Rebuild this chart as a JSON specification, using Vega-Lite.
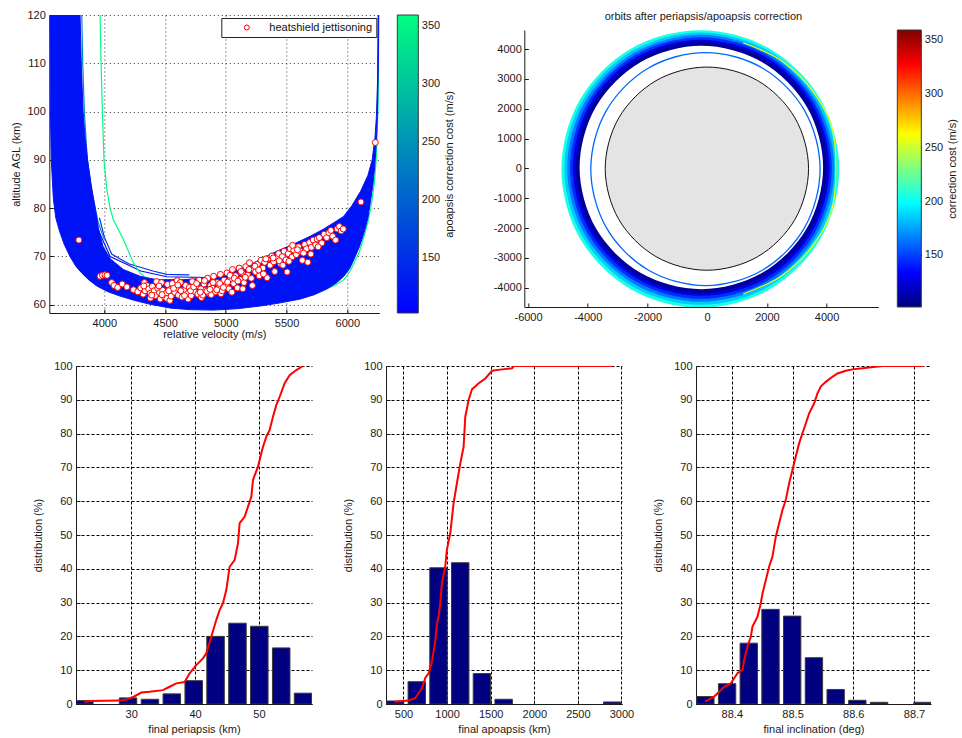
{
"$schema": "https://vega.github.io/schema/vega-lite/v6.json",
"background": "white",
"padding": {"left": 10, "top": 9, "right": 2, "bottom": 2},
"config": {
  "font": "Liberation Sans",
  "view": {"stroke": null},
  "axis": {"labelFont": "Liberation Sans", "titleFont": "Liberation Sans", "labelFontSize": 11, "titleFontSize": 11, "titleFontWeight": "normal", "labelColor": "#1a1a1a", "titleColor": "#1a1a1a", "domainColor": "#1a1a1a", "tickColor": "#1a1a1a", "tickSize": -4, "labelPadding": 8, "grid": false, "labelOverlap": false, "labelFlush": false},
  "legend": {"labelFont": "Liberation Sans", "labelFontSize": 11},
  "title": {"font": "Liberation Sans", "fontSize": 11, "fontWeight": "normal", "color": "#1a1a1a"}
},
"spacing": 21,
"center": true,
"resolve": {"scale": {"color": "independent", "shape": "independent", "stroke": "independent"}, "legend": {"color": "independent", "shape": "independent", "stroke": "independent"}},
"vconcat": [
 {"resolve": {"scale": {"color": "independent", "shape": "independent", "stroke": "independent"}, "legend": {"color": "independent", "shape": "independent", "stroke": "independent"}},
  "hconcat": [
   {"resolve": {"scale": {"color": "independent", "shape": "independent", "stroke": "independent"}, "legend": {"color": "independent", "shape": "independent", "stroke": "independent"}},
    "hconcat": [
     {"width": 330, "height": 298,
      "encoding": {
        "x": {"field": "v", "type": "quantitative", "scale": {"domain": [3547, 6264], "nice": false, "zero": false}, "axis": {"values": [4000, 4500, 5000, 5500, 6000], "format": "d", "title": "relative velocity (m/s)", "grid": true, "gridDash": [1, 3], "gridColor": "#222", "gridOpacity": 0.9, "titlePadding": 0}},
        "y": {"field": "h", "type": "quantitative", "scale": {"domain": [58.3, 120], "nice": false, "zero": false}, "axis": {"values": [60, 70, 80, 90, 100, 110, 120], "title": "altitude AGL (km)", "grid": true, "gridDash": [1, 3], "gridColor": "#222", "gridOpacity": 0.9, "titlePadding": 5}}
      },
      "layer": [
        {"data": {"values": [
          {"id": "A", "v": 3790, "h": 120, "c": 112}, {"id": "A", "v": 3805, "h": 110, "c": 112}, {"id": "A", "v": 3818, "h": 100, "c": 112}, {"id": "A", "v": 3845, "h": 90, "c": 112}, {"id": "A", "v": 3890, "h": 82, "c": 112}, {"id": "A", "v": 3950, "h": 75.5, "c": 112}, {"id": "A", "v": 4047, "h": 70, "c": 112}, {"id": "A", "v": 4157, "h": 68.7, "c": 112}, {"id": "A", "v": 4300, "h": 67, "c": 112}, {"id": "A", "v": 4514, "h": 65.8, "c": 112}, {"id": "A", "v": 4953, "h": 65.6, "c": 112}, {"id": "A", "v": 5200, "h": 66.8, "c": 112},
          {"id": "B", "v": 3960, "h": 78, "c": 150}, {"id": "B", "v": 4000, "h": 74, "c": 150}, {"id": "B", "v": 4060, "h": 70.5, "c": 150}, {"id": "B", "v": 4200, "h": 68.5, "c": 150}, {"id": "B", "v": 4400, "h": 67, "c": 150}, {"id": "B", "v": 4514, "h": 66.3, "c": 150}, {"id": "B", "v": 4700, "h": 66.2, "c": 150},
          {"id": "T", "v": 3814, "h": 120, "c": 240}, {"id": "T", "v": 3822, "h": 110, "c": 240}, {"id": "T", "v": 3835, "h": 100, "c": 240}, {"id": "T", "v": 3860, "h": 90, "c": 240}, {"id": "T", "v": 3900, "h": 83, "c": 240}, {"id": "T", "v": 3950, "h": 77, "c": 240}, {"id": "T", "v": 4000, "h": 73.5, "c": 240},
          {"id": "G", "v": 3965, "h": 120, "c": 355}, {"id": "G", "v": 3973, "h": 110, "c": 355}, {"id": "G", "v": 3984, "h": 100, "c": 355}, {"id": "G", "v": 3997, "h": 90, "c": 355}, {"id": "G", "v": 4020, "h": 84, "c": 355}, {"id": "G", "v": 4047, "h": 80, "c": 355}, {"id": "G", "v": 4074, "h": 77.6, "c": 355}, {"id": "G", "v": 4157, "h": 73.5, "c": 355}, {"id": "G", "v": 4239, "h": 68.7, "c": 355}, {"id": "G", "v": 4294, "h": 66.6, "c": 355}, {"id": "G", "v": 4377, "h": 64.8, "c": 355}, {"id": "G", "v": 4500, "h": 63.2, "c": 355}, {"id": "G", "v": 4700, "h": 61.6, "c": 355}, {"id": "G", "v": 5000, "h": 60.5, "c": 355}, {"id": "G", "v": 5300, "h": 60.6, "c": 355}, {"id": "G", "v": 5615, "h": 62.3, "c": 355}, {"id": "G", "v": 5805, "h": 63.2, "c": 355}, {"id": "G", "v": 5900, "h": 64.0, "c": 355}, {"id": "G", "v": 5972, "h": 65.2, "c": 355}, {"id": "G", "v": 6020, "h": 66.8, "c": 355}, {"id": "G", "v": 6055, "h": 68.6, "c": 355}, {"id": "G", "v": 6100, "h": 71.0, "c": 355}, {"id": "G", "v": 6140, "h": 74.3, "c": 355}, {"id": "G", "v": 6172, "h": 77.3, "c": 355}, {"id": "G", "v": 6200, "h": 81, "c": 355}, {"id": "G", "v": 6222, "h": 85, "c": 355}, {"id": "G", "v": 6238, "h": 90, "c": 355}, {"id": "G", "v": 6252, "h": 100, "c": 355}, {"id": "G", "v": 6260, "h": 110, "c": 355}, {"id": "G", "v": 6264, "h": 120, "c": 355}
         ]},
         "mark": {"type": "line", "strokeWidth": 1.2, "clip": true},
         "encoding": {"detail": {"field": "id"}, "color": {"field": "c", "type": "quantitative", "scale": {"domain": [102, 359], "range": ["#0000ff", "#00ff80"], "interpolate": "rgb"}, "legend": null}}
        },
        {"data": {"values": [
          {"o": 1, "v": 3552, "h": 120, "c": 120}, {"o": 2, "v": 3556, "h": 100, "c": 120}, {"o": 3, "v": 3563, "h": 90, "c": 120}, {"o": 4, "v": 3580, "h": 82, "c": 120}, {"o": 5, "v": 3600, "h": 78, "c": 120}, {"o": 6, "v": 3634, "h": 75, "c": 120}, {"o": 7, "v": 3670, "h": 72.5, "c": 120}, {"o": 8, "v": 3717, "h": 70, "c": 120}, {"o": 9, "v": 3765, "h": 68, "c": 120}, {"o": 10, "v": 3813, "h": 66.6, "c": 120},
          {"o": 11, "v": 3870, "h": 65.2, "c": 120}, {"o": 12, "v": 3937, "h": 63.9, "c": 120}, {"o": 13, "v": 4030, "h": 62.7, "c": 120}, {"o": 14, "v": 4129, "h": 61.8, "c": 120}, {"o": 15, "v": 4250, "h": 60.9, "c": 120}, {"o": 16, "v": 4377, "h": 60.1, "c": 120}, {"o": 17, "v": 4550, "h": 59.3, "c": 120}, {"o": 18, "v": 4700, "h": 59.0, "c": 120}, {"o": 19, "v": 4900, "h": 58.9, "c": 120}, {"o": 20, "v": 5100, "h": 59.2, "c": 120},
          {"o": 21, "v": 5300, "h": 59.8, "c": 120}, {"o": 22, "v": 5450, "h": 60.4, "c": 120}, {"o": 23, "v": 5615, "h": 61.2, "c": 120}, {"o": 24, "v": 5730, "h": 62.1, "c": 120}, {"o": 25, "v": 5835, "h": 63.3, "c": 120}, {"o": 26, "v": 5910, "h": 64.5, "c": 120}, {"o": 27, "v": 5972, "h": 65.9, "c": 120}, {"o": 28, "v": 6020, "h": 67.5, "c": 120}, {"o": 29, "v": 6055, "h": 69.4, "c": 120}, {"o": 30, "v": 6100, "h": 72, "c": 120},
          {"o": 31, "v": 6138, "h": 74.9, "c": 120}, {"o": 32, "v": 6170, "h": 78, "c": 120}, {"o": 33, "v": 6193, "h": 81.7, "c": 120}, {"o": 34, "v": 6212, "h": 85, "c": 120}, {"o": 35, "v": 6226, "h": 88.6, "c": 120}, {"o": 36, "v": 6240, "h": 94, "c": 120}, {"o": 37, "v": 6248, "h": 99, "c": 120}, {"o": 38, "v": 6255, "h": 108, "c": 120}, {"o": 39, "v": 6261, "h": 120, "c": 120},
          {"o": 40, "v": 6254, "h": 120, "c": 120}, {"o": 41, "v": 6249, "h": 106, "c": 120}, {"o": 42, "v": 6240, "h": 99, "c": 120}, {"o": 43, "v": 6228, "h": 94.5, "c": 120}, {"o": 44, "v": 6205, "h": 90, "c": 120}, {"o": 45, "v": 6170, "h": 86.8, "c": 120}, {"o": 46, "v": 6110, "h": 83.5, "c": 120}, {"o": 47, "v": 6040, "h": 80.6, "c": 120}, {"o": 48, "v": 5970, "h": 78.3, "c": 120}, {"o": 49, "v": 5890, "h": 77.0, "c": 120},
          {"o": 50, "v": 5800, "h": 75.6, "c": 120}, {"o": 51, "v": 5695, "h": 74.2, "c": 120}, {"o": 52, "v": 5560, "h": 72.6, "c": 120}, {"o": 53, "v": 5421, "h": 71.1, "c": 120}, {"o": 54, "v": 5300, "h": 69.6, "c": 120}, {"o": 55, "v": 5200, "h": 68.3, "c": 120}, {"o": 56, "v": 5100, "h": 67.2, "c": 120}, {"o": 57, "v": 5000, "h": 66.2, "c": 120}, {"o": 58, "v": 4900, "h": 65.6, "c": 120}, {"o": 59, "v": 4650, "h": 65.2, "c": 120},
          {"o": 60, "v": 4431, "h": 65.2, "c": 120}, {"o": 61, "v": 4294, "h": 65.9, "c": 120}, {"o": 62, "v": 4157, "h": 67.3, "c": 120}, {"o": 63, "v": 4050, "h": 69.5, "c": 120}, {"o": 64, "v": 3990, "h": 72, "c": 120}, {"o": 65, "v": 3950, "h": 76, "c": 120}, {"o": 66, "v": 3925, "h": 80, "c": 120}, {"o": 67, "v": 3890, "h": 85, "c": 120}, {"o": 68, "v": 3862, "h": 90, "c": 120}, {"o": 69, "v": 3840, "h": 95, "c": 120},
          {"o": 70, "v": 3825, "h": 100, "c": 120}, {"o": 71, "v": 3810, "h": 110, "c": 120}, {"o": 72, "v": 3800, "h": 120, "c": 120}
         ]},
         "mark": {"type": "line", "filled": true, "stroke": "#0a14f4", "strokeWidth": 1, "clip": true},
         "encoding": {"order": {"field": "o", "type": "quantitative"}, "color": {"field": "c", "type": "quantitative"}}
        },
        {"data": {"values": [
          {"v": 3790, "h": 73.4}, {"v": 6231, "h": 93.6}, {"v": 6113, "h": 81.3}, {"v": 3965, "h": 65.9}, {"v": 3985, "h": 66.1}, {"v": 4005, "h": 66.2}, {"v": 4022, "h": 66.1}, {"v": 4060, "h": 64.6}, {"v": 4080, "h": 64.0}, {"v": 4110, "h": 63.6},
          {"v": 4147, "h": 64.3}, {"v": 4185, "h": 63.7}, {"v": 4240, "h": 63.1}, {"v": 4275, "h": 62.7}, {"v": 4300, "h": 63.5}, {"v": 4320, "h": 62.2}, {"v": 4330, "h": 64.6}, {"v": 4335, "h": 62.9}, {"v": 4350, "h": 64.0}, {"v": 4365, "h": 63.3},
          {"v": 4380, "h": 62.4}, {"v": 4380, "h": 61.4}, {"v": 4395, "h": 63.8}, {"v": 4410, "h": 62.9}, {"v": 4420, "h": 61.9}, {"v": 4430, "h": 64.8}, {"v": 4440, "h": 63.4}, {"v": 4455, "h": 62.5}, {"v": 4460, "h": 61.2}, {"v": 4470, "h": 64.6},
          {"v": 4480, "h": 63.0}, {"v": 4495, "h": 61.6}, {"v": 4510, "h": 62.4}, {"v": 4515, "h": 61.3}, {"v": 4520, "h": 64.2}, {"v": 4540, "h": 63.1}, {"v": 4540, "h": 60.9}, {"v": 4550, "h": 61.8}, {"v": 4560, "h": 64.4}, {"v": 4580, "h": 62.6},
          {"v": 4595, "h": 63.5}, {"v": 4600, "h": 65.0}, {"v": 4610, "h": 62.0}, {"v": 4625, "h": 64.6}, {"v": 4640, "h": 61.6}, {"v": 4655, "h": 63.0}, {"v": 4670, "h": 64.0}, {"v": 4685, "h": 62.3}, {"v": 4690, "h": 61.2}, {"v": 4700, "h": 63.6},
          {"v": 4715, "h": 61.9}, {"v": 4725, "h": 64.8}, {"v": 4740, "h": 62.8}, {"v": 4755, "h": 63.9}, {"v": 4770, "h": 62.2}, {"v": 4780, "h": 65.1}, {"v": 4795, "h": 63.3}, {"v": 4800, "h": 61.5}, {"v": 4810, "h": 62.0}, {"v": 4820, "h": 64.3},
          {"v": 4835, "h": 63.0}, {"v": 4850, "h": 65.5}, {"v": 4860, "h": 62.4}, {"v": 4875, "h": 64.0}, {"v": 4880, "h": 62.1}, {"v": 4890, "h": 63.4}, {"v": 4900, "h": 65.9}, {"v": 4915, "h": 62.7}, {"v": 4930, "h": 64.6}, {"v": 4945, "h": 63.6},
          {"v": 4955, "h": 66.3}, {"v": 4960, "h": 62.3}, {"v": 4970, "h": 62.9}, {"v": 4985, "h": 65.1}, {"v": 5000, "h": 64.0}, {"v": 5010, "h": 66.6}, {"v": 5025, "h": 63.3}, {"v": 5040, "h": 65.4}, {"v": 5050, "h": 62.6}, {"v": 5055, "h": 67.3},
          {"v": 5065, "h": 64.4}, {"v": 5080, "h": 66.0}, {"v": 5095, "h": 63.5}, {"v": 5110, "h": 67.6}, {"v": 5120, "h": 65.2}, {"v": 5135, "h": 66.6}, {"v": 5140, "h": 63.3}, {"v": 5150, "h": 64.6}, {"v": 5165, "h": 67.9}, {"v": 5180, "h": 66.1},
          {"v": 5195, "h": 68.7}, {"v": 5210, "h": 65.5}, {"v": 5219, "h": 64.0}, {"v": 5230, "h": 67.4}, {"v": 5245, "h": 66.8}, {"v": 5260, "h": 68.4}, {"v": 5275, "h": 66.0}, {"v": 5290, "h": 69.2}, {"v": 5305, "h": 67.6}, {"v": 5320, "h": 68.8},
          {"v": 5340, "h": 65.6}, {"v": 5350, "h": 69.6}, {"v": 5365, "h": 68.2}, {"v": 5380, "h": 70.1}, {"v": 5395, "h": 68.9}, {"v": 5403, "h": 66.9}, {"v": 5420, "h": 69.6}, {"v": 5435, "h": 70.6}, {"v": 5450, "h": 68.5}, {"v": 5465, "h": 70.0},
          {"v": 5480, "h": 71.1}, {"v": 5495, "h": 69.3}, {"v": 5505, "h": 66.8}, {"v": 5515, "h": 70.6}, {"v": 5530, "h": 71.6}, {"v": 5545, "h": 69.9}, {"v": 5560, "h": 71.3}, {"v": 5580, "h": 70.4}, {"v": 5600, "h": 72.0}, {"v": 5615, "h": 71.1},
          {"v": 5630, "h": 69.2}, {"v": 5650, "h": 72.5}, {"v": 5665, "h": 71.6}, {"v": 5675, "h": 68.8}, {"v": 5690, "h": 72.9}, {"v": 5705, "h": 71.9}, {"v": 5720, "h": 73.4}, {"v": 5740, "h": 72.4}, {"v": 5752, "h": 73.6}, {"v": 5770, "h": 73.9},
          {"v": 5790, "h": 72.8}, {"v": 5810, "h": 74.6}, {"v": 5830, "h": 73.9}, {"v": 5849, "h": 74.9}, {"v": 5865, "h": 75.4}, {"v": 5880, "h": 74.2}, {"v": 5904, "h": 73.4}, {"v": 5917, "h": 75.7}, {"v": 5935, "h": 76.2}, {"v": 5950, "h": 75.3},
          {"v": 5967, "h": 75.7},
          {"v": 4325, "h": 63.9}, {"v": 4390, "h": 62.0}, {"v": 4450, "h": 63.9}, {"v": 4475, "h": 62.1}, {"v": 4530, "h": 62.9}, {"v": 4570, "h": 63.4}, {"v": 4605, "h": 64.1}, {"v": 4630, "h": 62.9}, {"v": 4660, "h": 61.9}, {"v": 4710, "h": 62.9},
          {"v": 4735, "h": 63.7}, {"v": 4760, "h": 64.4}, {"v": 4790, "h": 62.6}, {"v": 4825, "h": 65.0}, {"v": 4845, "h": 62.8}, {"v": 4870, "h": 63.2}, {"v": 4895, "h": 64.6}, {"v": 4925, "h": 63.1}, {"v": 4950, "h": 64.4}, {"v": 4980, "h": 63.6},
          {"v": 5015, "h": 64.7}, {"v": 5035, "h": 66.1}, {"v": 5070, "h": 65.5}, {"v": 5100, "h": 64.9}, {"v": 5125, "h": 66.9}, {"v": 5160, "h": 65.7}, {"v": 5190, "h": 67.3}, {"v": 5240, "h": 68.0}, {"v": 5270, "h": 67.2}, {"v": 5310, "h": 66.4},
          {"v": 5330, "h": 69.5}, {"v": 5390, "h": 69.7}, {"v": 5440, "h": 69.1}, {"v": 5470, "h": 68.2}, {"v": 5520, "h": 69.0}, {"v": 5550, "h": 72.3}, {"v": 5590, "h": 71.4}, {"v": 5640, "h": 70.7}, {"v": 5700, "h": 70.5}, {"v": 5760, "h": 72.0}
         ]},
         "mark": {"type": "point", "shape": "circle", "filled": false, "fill": "white", "strokeWidth": 1, "size": 36, "opacity": 1, "fillOpacity": 1, "clip": true},
         "encoding": {"stroke": {"datum": "heatshield jettisoning", "type": "nominal", "scale": {"range": ["#ff0000"]}, "legend": {"title": null, "orient": "top-right", "offset": 3, "fillColor": "white", "strokeColor": "#222", "padding": 4, "symbolType": "circle", "symbolSize": 25, "symbolFillColor": "white", "symbolStrokeColor": "#ff0000", "symbolStrokeWidth": 1, "symbolOffset": 16, "labelOffset": 17, "labelFontSize": 11, "labelColor": "#111", "encode": {"symbols": {"update": {"stroke": {"value": "#ff0000"}, "fill": {"value": "white"}, "strokeWidth": {"value": 1}, "opacity": {"value": 1}}}}}}}
        }
      ]
     },
     {"width": 21, "height": 298,
      "data": {"values": [{"a": 0, "b": 1, "lo": 102, "hi": 359}]},
      "mark": {"type": "rect", "fill": {"gradient": "linear", "x1": 0, "y1": 1, "x2": 0, "y2": 0, "stops": [{"offset": 0, "color": "#0000ff"}, {"offset": 1, "color": "#00ff80"}]}, "stroke": "#3a3a3a", "strokeWidth": 1},
      "encoding": {
        "x": {"field": "a", "type": "quantitative", "scale": {"domain": [0, 1], "nice": false, "zero": false}, "axis": null},
        "x2": {"field": "b"},
        "y": {"field": "lo", "type": "quantitative", "scale": {"domain": [102, 359], "nice": false, "zero": false}, "axis": {"orient": "right", "values": [150, 200, 250, 300, 350], "domain": false, "title": "apoapsis correction cost (m/s)", "titleAngle": 270, "titleBaseline": "top", "labelPadding": 7, "titlePadding": 4}},
        "y2": {"field": "hi"}
      }
     }
   ], "spacing": 18, "bounds": "flush"},
   {"resolve": {"scale": {"color": "independent"}, "legend": {"color": "independent"}},
    "vconcat": [
     {"width": 354, "height": 15, "data": {"values": [{"q": 1}]}, "mark": {"type": "point", "opacity": 0}},
     {"resolve": {"scale": {"color": "independent"}, "legend": {"color": "independent"}},
      "hconcat": [
       {"width": 354, "height": 277,
        "encoding": {
          "x": {"field": "x", "type": "quantitative", "scale": {"domain": [-6124, 5732], "nice": false, "zero": false}, "axis": {"values": [-6000, -4000, -2000, 0, 2000, 4000], "labelExpr": "'' + datum.value", "title": null}},
          "y": {"field": "y", "type": "quantitative", "scale": {"domain": [-4647, 4637], "nice": false, "zero": false}, "axis": {"values": [-4000, -3000, -2000, -1000, 0, 1000, 2000, 3000, 4000], "labelExpr": "'' + datum.value", "title": null, "labelPadding": 7}}
        },
        "layer": [
          {"data": {"values": [
            {"ring": 1, "k": 0, "x": 4360, "y": -22, "c": 205}, {"ring": 1, "k": 1, "x": 3745, "y": 2273, "c": 205}, {"ring": 1, "k": 2, "x": 2065, "y": 3953, "c": 205}, {"ring": 1, "k": 3, "x": -230, "y": 4568, "c": 205}, {"ring": 1, "k": 4, "x": -2525, "y": 3953, "c": 205}, {"ring": 1, "k": 5, "x": -4205, "y": 2273, "c": 205}, {"ring": 1, "k": 6, "x": -4820, "y": -22, "c": 205}, {"ring": 1, "k": 7, "x": -4205, "y": -2317, "c": 205}, {"ring": 1, "k": 8, "x": -2525, "y": -3997, "c": 205}, {"ring": 1, "k": 9, "x": -230, "y": -4612, "c": 205}, {"ring": 1, "k": 10, "x": 2065, "y": -3997, "c": 205}, {"ring": 1, "k": 11, "x": 3745, "y": -2317, "c": 205},
            {"ring": 2, "k": 0, "x": 4278, "y": -11, "c": 185}, {"ring": 2, "k": 1, "x": 3675, "y": 2239, "c": 185}, {"ring": 2, "k": 2, "x": 2028, "y": 3886, "c": 185}, {"ring": 2, "k": 3, "x": -222, "y": 4489, "c": 185}, {"ring": 2, "k": 4, "x": -2472, "y": 3886, "c": 185}, {"ring": 2, "k": 5, "x": -4119, "y": 2239, "c": 185}, {"ring": 2, "k": 6, "x": -4722, "y": -11, "c": 185}, {"ring": 2, "k": 7, "x": -4119, "y": -2261, "c": 185}, {"ring": 2, "k": 8, "x": -2472, "y": -3908, "c": 185}, {"ring": 2, "k": 9, "x": -222, "y": -4511, "c": 185}, {"ring": 2, "k": 10, "x": 2028, "y": -3908, "c": 185}, {"ring": 2, "k": 11, "x": 3675, "y": -2261, "c": 185},
            {"ring": 3, "k": 0, "x": 4195, "y": 0, "c": 165}, {"ring": 3, "k": 1, "x": 3604, "y": 2205, "c": 165}, {"ring": 3, "k": 2, "x": 1990, "y": 3819, "c": 165}, {"ring": 3, "k": 3, "x": -215, "y": 4410, "c": 165}, {"ring": 3, "k": 4, "x": -2420, "y": 3819, "c": 165}, {"ring": 3, "k": 5, "x": -4034, "y": 2205, "c": 165}, {"ring": 3, "k": 6, "x": -4625, "y": 0, "c": 165}, {"ring": 3, "k": 7, "x": -4034, "y": -2205, "c": 165}, {"ring": 3, "k": 8, "x": -2420, "y": -3819, "c": 165}, {"ring": 3, "k": 9, "x": -215, "y": -4410, "c": 165}, {"ring": 3, "k": 10, "x": 1990, "y": -3819, "c": 165}, {"ring": 3, "k": 11, "x": 3604, "y": -2205, "c": 165},
            {"ring": 4, "k": 0, "x": 4112, "y": 10, "c": 145}, {"ring": 4, "k": 1, "x": 3533, "y": 2170, "c": 145}, {"ring": 4, "k": 2, "x": 1952, "y": 3751, "c": 145}, {"ring": 4, "k": 3, "x": -208, "y": 4330, "c": 145}, {"ring": 4, "k": 4, "x": -2368, "y": 3751, "c": 145}, {"ring": 4, "k": 5, "x": -3949, "y": 2170, "c": 145}, {"ring": 4, "k": 6, "x": -4528, "y": 10, "c": 145}, {"ring": 4, "k": 7, "x": -3949, "y": -2150, "c": 145}, {"ring": 4, "k": 8, "x": -2368, "y": -3731, "c": 145}, {"ring": 4, "k": 9, "x": -208, "y": -4310, "c": 145}, {"ring": 4, "k": 10, "x": 1952, "y": -3731, "c": 145}, {"ring": 4, "k": 11, "x": 3533, "y": -2150, "c": 145},
            {"ring": 5, "k": 0, "x": 4029, "y": 20, "c": 125}, {"ring": 5, "k": 1, "x": 3462, "y": 2135, "c": 125}, {"ring": 5, "k": 2, "x": 1914, "y": 3683, "c": 125}, {"ring": 5, "k": 3, "x": -201, "y": 4250, "c": 125}, {"ring": 5, "k": 4, "x": -2316, "y": 3683, "c": 125}, {"ring": 5, "k": 5, "x": -3864, "y": 2135, "c": 125}, {"ring": 5, "k": 6, "x": -4431, "y": 20, "c": 125}, {"ring": 5, "k": 7, "x": -3864, "y": -2095, "c": 125}, {"ring": 5, "k": 8, "x": -2316, "y": -3643, "c": 125}, {"ring": 5, "k": 9, "x": -201, "y": -4210, "c": 125}, {"ring": 5, "k": 10, "x": 1914, "y": -3643, "c": 125}, {"ring": 5, "k": 11, "x": 3462, "y": -2095, "c": 125},
            {"ring": 6, "k": 0, "x": 3946, "y": 28, "c": 108}, {"ring": 6, "k": 1, "x": 3391, "y": 2099, "c": 108}, {"ring": 6, "k": 2, "x": 1876, "y": 3614, "c": 108}, {"ring": 6, "k": 3, "x": -195, "y": 4169, "c": 108}, {"ring": 6, "k": 4, "x": -2266, "y": 3614, "c": 108}, {"ring": 6, "k": 5, "x": -3781, "y": 2099, "c": 108}, {"ring": 6, "k": 6, "x": -4336, "y": 28, "c": 108}, {"ring": 6, "k": 7, "x": -3781, "y": -2043, "c": 108}, {"ring": 6, "k": 8, "x": -2266, "y": -3558, "c": 108}, {"ring": 6, "k": 9, "x": -195, "y": -4113, "c": 108}, {"ring": 6, "k": 10, "x": 1876, "y": -3558, "c": 108}, {"ring": 6, "k": 11, "x": 3391, "y": -2043, "c": 108}
           ]},
           "mark": {"type": "line", "interpolate": "cardinal-closed", "strokeWidth": 3.8, "clip": true},
           "encoding": {"detail": {"field": "ring"}, "order": {"field": "k", "type": "quantitative"}, "color": {"field": "c", "type": "quantitative", "scale": {"domain": [101.5, 133.7, 198.1, 262.4, 326.8, 359], "range": ["#00007f", "#0000ff", "#00ffff", "#ffff00", "#ff0000", "#7f0000"], "interpolate": "rgb"}, "legend": null}}
          },
          {"data": {"values": [
            {"k": 0, "x": 1207, "y": 4210, "c": 258}, {"k": 1, "x": 2512, "y": 3588, "c": 258}, {"k": 2, "x": 3588, "y": 2512, "c": 258}, {"k": 3, "x": 4231, "y": 1134, "c": 258}, {"k": 4, "x": 4231, "y": -1134, "c": 258}, {"k": 5, "x": 3588, "y": -2512, "c": 258}, {"k": 6, "x": 2512, "y": -3588, "c": 258}, {"k": 7, "x": 1207, "y": -4210, "c": 258}
           ]},
           "mark": {"type": "line", "interpolate": "cardinal", "strokeWidth": 1.2, "clip": true},
           "encoding": {"order": {"field": "k", "type": "quantitative"}, "color": {"field": "c", "type": "quantitative"}}
          },
          {"data": {"values": [
            {"k": 0, "x": 3782, "y": -25, "c": 160}, {"k": 1, "x": 3267, "y": 1928, "c": 160}, {"k": 2, "x": 1862, "y": 3357, "c": 160}, {"k": 3, "x": -58, "y": 3880, "c": 160}, {"k": 4, "x": -1978, "y": 3357, "c": 160}, {"k": 5, "x": -3383, "y": 1928, "c": 160}, {"k": 6, "x": -3898, "y": -25, "c": 160}, {"k": 7, "x": -3383, "y": -1978, "c": 160}, {"k": 8, "x": -1978, "y": -3407, "c": 160}, {"k": 9, "x": -58, "y": -3930, "c": 160}, {"k": 10, "x": 1862, "y": -3407, "c": 160}, {"k": 11, "x": 3267, "y": -1978, "c": 160}
           ]},
           "mark": {"type": "line", "interpolate": "cardinal-closed", "strokeWidth": 1.3, "clip": true},
           "encoding": {"order": {"field": "k", "type": "quantitative"}, "color": {"field": "c", "type": "quantitative"}}
          },
          {"data": {"values": [
            {"k": 0, "x": 3395, "y": -10}, {"k": 1, "x": 2939, "y": 1693}, {"k": 2, "x": 1693, "y": 2939}, {"k": 3, "x": -10, "y": 3395}, {"k": 4, "x": -1713, "y": 2939}, {"k": 5, "x": -2959, "y": 1693}, {"k": 6, "x": -3415, "y": -10}, {"k": 7, "x": -2959, "y": -1713}, {"k": 8, "x": -1713, "y": -2959}, {"k": 9, "x": -10, "y": -3415}, {"k": 10, "x": 1693, "y": -2959}, {"k": 11, "x": 2939, "y": -1713}
           ]},
           "mark": {"type": "line", "interpolate": "cardinal-closed", "filled": true, "fill": "#e4e4e4", "stroke": "#111111", "strokeWidth": 1, "clip": true},
           "encoding": {"order": {"field": "k", "type": "quantitative"}}
          }
        ]
       },
       {"width": 24, "height": 277,
        "data": {"values": [{"a": 0, "b": 1, "lo": 101.5, "hi": 359}]},
        "mark": {"type": "rect", "fill": {"gradient": "linear", "x1": 0, "y1": 1, "x2": 0, "y2": 0, "stops": [{"offset": 0, "color": "#00007f"}, {"offset": 0.125, "color": "#0000ff"}, {"offset": 0.375, "color": "#00ffff"}, {"offset": 0.625, "color": "#ffff00"}, {"offset": 0.875, "color": "#ff0000"}, {"offset": 1, "color": "#7f0000"}]}, "stroke": "#3a3a3a", "strokeWidth": 1},
        "encoding": {
          "x": {"field": "a", "type": "quantitative", "scale": {"domain": [0, 1], "nice": false, "zero": false}, "axis": null},
          "x2": {"field": "b"},
          "y": {"field": "lo", "type": "quantitative", "scale": {"domain": [101.5, 359], "nice": false, "zero": false}, "axis": {"orient": "right", "values": [150, 200, 250, 300, 350], "domain": false, "title": "correction cost (m/s)", "titleAngle": 270, "titleBaseline": "top", "labelPadding": 7, "titlePadding": 4}},
          "y2": {"field": "hi"}
        }
       }
      ], "spacing": 19, "bounds": "flush"}
    ], "spacing": 0, "bounds": "flush", "title": {"text": "orbits after periapsis/apoapsis correction", "anchor": "middle", "dx": -22, "offset": -18, "baseline": "bottom", "fontSize": 11, "fontWeight": "normal"}}
 ], "spacing": 37, "bounds": "full"},
 {"hconcat": [
   {"width": 236, "height": 338,
    "encoding": {
      "x": {"field": "a", "type": "quantitative", "scale": {"domain": [21.35, 58.3], "nice": false, "zero": false}, "axis": {"values": [30, 40, 50], "title": "final periapsis (km)", "grid": true, "gridDash": [3, 2], "gridColor": "#000", "gridOpacity": 1, "titlePadding": 4}},
      "y": {"field": "p", "type": "quantitative", "scale": {"domain": [0, 100], "nice": false}, "axis": {"values": [0, 10, 20, 30, 40, 50, 60, 70, 80, 90, 100], "title": "distribution (%)", "grid": true, "gridDash": [3, 2], "gridColor": "#000", "gridOpacity": 1, "titlePadding": 10}}
    },
    "layer": [
      {"data": {"values": [
        {"a": 21.28, "b": 24.02, "p": 1.0}, {"a": 28.13, "b": 30.87, "p": 1.8}, {"a": 31.56, "b": 34.30, "p": 1.4}, {"a": 34.98, "b": 37.72, "p": 3.0}, {"a": 38.41, "b": 41.15, "p": 6.9}, {"a": 41.83, "b": 44.57, "p": 20.0}, {"a": 45.26, "b": 48.00, "p": 23.9}, {"a": 48.68, "b": 51.42, "p": 23.0}, {"a": 52.11, "b": 54.85, "p": 16.6}, {"a": 55.53, "b": 58.27, "p": 3.2}
       ]},
       "mark": {"type": "rect", "fill": "#000080", "stroke": "#3a3a3a", "strokeWidth": 1, "clip": true},
       "encoding": {"x2": {"field": "b"}, "y2": {"datum": 0}}
      },
      {"data": {"values": [
        {"a": 22.69, "p": 0.5}, {"a": 23.5, "p": 0.9}, {"a": 28.17, "p": 1.0}, {"a": 29.2, "p": 1.3}, {"a": 30.26, "p": 2.0}, {"a": 31.57, "p": 3.4}, {"a": 32.87, "p": 3.6}, {"a": 34.96, "p": 4.1}, {"a": 36.01, "p": 5.1}, {"a": 37.05, "p": 6.1},
        {"a": 38.36, "p": 6.5}, {"a": 39.14, "p": 9.1}, {"a": 40.18, "p": 11.5}, {"a": 41.23, "p": 13.5}, {"a": 41.75, "p": 15.0}, {"a": 42.53, "p": 19.9}, {"a": 43.32, "p": 24.9}, {"a": 43.84, "p": 27.8}, {"a": 44.36, "p": 29.8}, {"a": 44.88, "p": 33.7},
        {"a": 45.40, "p": 40.6}, {"a": 46.19, "p": 42.6}, {"a": 46.71, "p": 47.5}, {"a": 46.97, "p": 53.5}, {"a": 47.75, "p": 55.4}, {"a": 48.28, "p": 58.4}, {"a": 48.80, "p": 61.3}, {"a": 49.06, "p": 66.3}, {"a": 49.84, "p": 70.2}, {"a": 50.37, "p": 74.2},
        {"a": 50.63, "p": 76.1}, {"a": 51.15, "p": 79.1}, {"a": 51.67, "p": 81.1}, {"a": 52.19, "p": 85.0}, {"a": 52.72, "p": 88.5}, {"a": 53.24, "p": 90.9}, {"a": 54.02, "p": 94.9}, {"a": 54.80, "p": 97.3}, {"a": 55.85, "p": 98.8}, {"a": 56.89, "p": 100}
       ]},
       "mark": {"type": "line", "color": "#ff0000", "strokeWidth": 2, "clip": true}
      }
    ]
   },
   {"width": 236, "height": 338,
    "encoding": {
      "x": {"field": "a", "type": "quantitative", "scale": {"domain": [300, 3006], "nice": false, "zero": false}, "axis": {"values": [500, 1000, 1500, 2000, 2500, 3000], "format": "d", "title": "final apoapsis (km)", "grid": true, "gridDash": [3, 2], "gridColor": "#000", "gridOpacity": 1, "titlePadding": 4}},
      "y": {"field": "p", "type": "quantitative", "scale": {"domain": [0, 100], "nice": false}, "axis": {"values": [0, 10, 20, 30, 40, 50, 60, 70, 80, 90, 100], "title": "distribution (%)", "grid": true, "gridDash": [3, 2], "gridColor": "#000", "gridOpacity": 1, "titlePadding": 10}}
    },
    "layer": [
      {"data": {"values": [
        {"a": 304, "b": 504, "p": 0.9}, {"a": 553, "b": 753, "p": 6.6}, {"a": 802, "b": 1002, "p": 40.3}, {"a": 1051, "b": 1251, "p": 41.8}, {"a": 1300, "b": 1500, "p": 9.0}, {"a": 1549, "b": 1749, "p": 1.4}, {"a": 2794, "b": 2994, "p": 0.6}
       ]},
       "mark": {"type": "rect", "fill": "#000080", "stroke": "#3a3a3a", "strokeWidth": 1, "clip": true},
       "encoding": {"x2": {"field": "b"}, "y2": {"datum": 0}}
      },
      {"data": {"values": [
        {"a": 396, "p": 0.7}, {"a": 558, "p": 1.0}, {"a": 634, "p": 1.7}, {"a": 673, "p": 3.2}, {"a": 711, "p": 4.6}, {"a": 749, "p": 7.6}, {"a": 788, "p": 9.1}, {"a": 826, "p": 12.5}, {"a": 864, "p": 18.4}, {"a": 883, "p": 23.4},
        {"a": 903, "p": 25.8}, {"a": 922, "p": 29.8}, {"a": 941, "p": 35.7}, {"a": 979, "p": 40.6}, {"a": 998, "p": 45.6}, {"a": 1037, "p": 50.5}, {"a": 1075, "p": 59.4}, {"a": 1113, "p": 65.3}, {"a": 1152, "p": 71.2}, {"a": 1190, "p": 76.1},
        {"a": 1209, "p": 85.0}, {"a": 1248, "p": 90.0}, {"a": 1286, "p": 93.1}, {"a": 1363, "p": 94.9}, {"a": 1439, "p": 96.3}, {"a": 1516, "p": 98.6}, {"a": 1631, "p": 99.0}, {"a": 1746, "p": 99.3}, {"a": 1765, "p": 100}, {"a": 2896, "p": 100}
       ]},
       "mark": {"type": "line", "color": "#ff0000", "strokeWidth": 2, "clip": true}
      }
    ]
   },
   {"width": 235, "height": 338,
    "encoding": {
      "x": {"field": "a", "type": "quantitative", "scale": {"domain": [88.341, 88.728], "nice": false, "zero": false}, "axis": {"values": [88.4, 88.5, 88.6, 88.7], "format": ".1f", "title": "final inclination (deg)", "grid": true, "gridDash": [3, 2], "gridColor": "#000", "gridOpacity": 1, "titlePadding": 4}},
      "y": {"field": "p", "type": "quantitative", "scale": {"domain": [0, 100], "nice": false}, "axis": {"values": [0, 10, 20, 30, 40, 50, 60, 70, 80, 90, 100], "title": "distribution (%)", "grid": true, "gridDash": [3, 2], "gridColor": "#000", "gridOpacity": 1, "titlePadding": 10}}
    },
    "layer": [
      {"data": {"values": [
        {"a": 88.3421, "b": 88.3707, "p": 2.2}, {"a": 88.3779, "b": 88.4065, "p": 6.0}, {"a": 88.4136, "b": 88.4422, "p": 18.0}, {"a": 88.4494, "b": 88.4780, "p": 28.0}, {"a": 88.4851, "b": 88.5137, "p": 26.0}, {"a": 88.5209, "b": 88.5495, "p": 13.7}, {"a": 88.5567, "b": 88.5853, "p": 4.3}, {"a": 88.5924, "b": 88.6210, "p": 1.1}, {"a": 88.6282, "b": 88.6568, "p": 0.5}, {"a": 88.6997, "b": 88.7283, "p": 0.5}
       ]},
       "mark": {"type": "rect", "fill": "#000080", "stroke": "#3a3a3a", "strokeWidth": 1, "clip": true},
       "encoding": {"x2": {"field": "b"}, "y2": {"datum": 0}}
      },
      {"data": {"values": [
        {"a": 88.3561, "p": 0.7}, {"a": 88.3627, "p": 1.4}, {"a": 88.3709, "p": 2.2}, {"a": 88.3792, "p": 3.6}, {"a": 88.3874, "p": 5.1}, {"a": 88.3984, "p": 6.1}, {"a": 88.4038, "p": 7.6}, {"a": 88.4093, "p": 9.1}, {"a": 88.4176, "p": 10.1}, {"a": 88.4203, "p": 13.0},
        {"a": 88.4258, "p": 17.0}, {"a": 88.4313, "p": 19.9}, {"a": 88.4340, "p": 22.9}, {"a": 88.4422, "p": 25.8}, {"a": 88.4477, "p": 29.8}, {"a": 88.4505, "p": 32.7}, {"a": 88.4560, "p": 36.7}, {"a": 88.4614, "p": 40.6}, {"a": 88.4669, "p": 43.6}, {"a": 88.4724, "p": 49.5},
        {"a": 88.4779, "p": 53.5}, {"a": 88.4834, "p": 57.4}, {"a": 88.4889, "p": 60.4}, {"a": 88.4944, "p": 65.3}, {"a": 88.4998, "p": 69.2}, {"a": 88.5053, "p": 73.2}, {"a": 88.5108, "p": 77.1}, {"a": 88.5163, "p": 80.1}, {"a": 88.5218, "p": 83.0}, {"a": 88.5273, "p": 86.0},
        {"a": 88.5355, "p": 88.9}, {"a": 88.5410, "p": 91.9}, {"a": 88.5465, "p": 93.9}, {"a": 88.5547, "p": 95.3}, {"a": 88.5657, "p": 96.8}, {"a": 88.5739, "p": 97.8}, {"a": 88.5876, "p": 98.6}, {"a": 88.5986, "p": 99.0}, {"a": 88.6150, "p": 99.3}, {"a": 88.6370, "p": 99.8},
        {"a": 88.6479, "p": 100}, {"a": 88.7165, "p": 100}
       ]},
       "mark": {"type": "line", "color": "#ff0000", "strokeWidth": 2, "clip": true}
      }
    ]
   }
 ], "spacing": 74, "bounds": "flush"}
]
}
